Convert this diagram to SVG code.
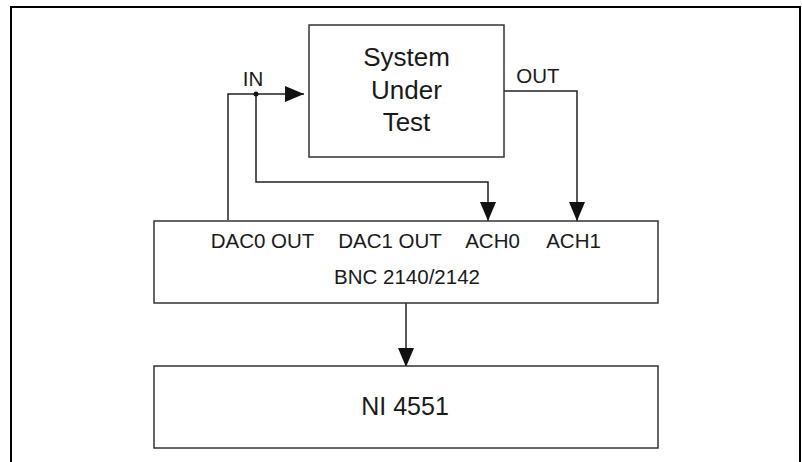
<svg xmlns="http://www.w3.org/2000/svg" width="802" height="462" viewBox="0 0 802 462">
<defs>
<style>
.frame{fill:none;stroke:#000;stroke-width:2}
.box{fill:#fff;stroke:#333;stroke-width:1.5}
.wire{fill:none;stroke:#222;stroke-width:1.5}
text{font-family:"Liberation Sans",Arial,sans-serif;fill:#1a1a1a;text-anchor:middle}
.lbl{font-size:20.5px}
.big{font-size:26px}
.ni{font-size:25px}
</style>
<marker id="ah" markerWidth="19" markerHeight="16" refX="19" refY="8" orient="auto" markerUnits="userSpaceOnUse">
<path d="M0,0 L19,8 L0,16 Z" fill="#111"/>
</marker>
</defs>
<rect width="802" height="462" fill="#fff"/>
<path class="frame" d="M11,462 V7 H800 V462"/>
<g id="connectors">
<path class="wire" d="M228,220 V94 H304" marker-end="url(#ah)"/>
<path class="wire" d="M256,94 V182 H488 V221" marker-end="url(#ah)"/>
<circle cx="256" cy="94" r="2.5" fill="#111"/>
<path class="wire" d="M504,91 H577 V221" marker-end="url(#ah)"/>
<path class="wire" d="M406,303 V367" marker-end="url(#ah)"/>
</g>
<g id="sut">
<rect class="box" x="309" y="25" width="195" height="132"/>
<text class="big" x="406.5" y="66">System</text>
<text class="big" x="406.5" y="98.5">Under</text>
<text class="big" x="406.5" y="131">Test</text>
</g>
<g id="label-in"><text class="lbl" x="253" y="86">IN</text></g>
<g id="label-out"><text class="lbl" x="538" y="83">OUT</text></g>
<g id="bnc">
<rect class="box" x="154" y="221" width="504" height="82"/>
<text class="lbl" x="262.5" y="248">DAC0 OUT</text>
<text class="lbl" x="390" y="248">DAC1 OUT</text>
<text class="lbl" x="492.5" y="248">ACH0</text>
<text class="lbl" x="573.5" y="248">ACH1</text>
<text class="lbl" x="407" y="284">BNC 2140/2142</text>
</g>
<g id="ni4551">
<rect class="box" x="154" y="366" width="504" height="82"/>
<text class="ni" x="405" y="415">NI 4551</text>
</g>
</svg>
